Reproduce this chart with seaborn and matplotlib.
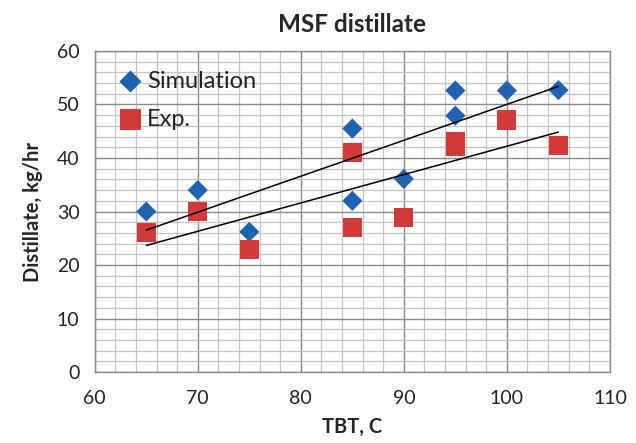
import matplotlib
matplotlib.use("Agg")
import matplotlib.pyplot as plt
import seaborn as sns
import pandas as pd
from matplotlib.ticker import MultipleLocator

# values
tbt = [65, 70, 75, 85, 85, 90, 95, 95, 100, 105]
simulation = [30.0, 34.0, 26.2, 45.5, 32.0, 36.1, 52.6, 47.9, 52.6, 52.7]
experiment = [26.1, 30.0, 22.9, 41.0, 27.0, 28.9, 43.0, 42.2, 47.1, 42.3]

df = pd.DataFrame({"TBT": tbt, "Simulation": simulation, "Exp.": experiment})

sns.set_style("white")
plt.rcParams["font.family"] = ["Lato", "DejaVu Sans"]

fig = plt.figure(figsize=(6.36, 4.43), dpi=100)
ax = fig.add_axes([0.149, 0.160, 0.810, 0.725])

sns.scatterplot(data=df, x="TBT", y="Simulation", marker="D", s=105,
                color="#1f63b0", edgecolor="none", label="Simulation", ax=ax, zorder=3)
sns.scatterplot(data=df, x="TBT", y="Exp.", marker="s", s=190,
                color="#d03a3a", edgecolor="none", label="Exp.", ax=ax, zorder=4)
sns.regplot(data=df, x="TBT", y="Simulation", scatter=False, ci=None,
            line_kws={"color": "black", "lw": 1.1, "zorder": 5}, ax=ax)
sns.regplot(data=df, x="TBT", y="Exp.", scatter=False, ci=None,
            line_kws={"color": "black", "lw": 1.1, "zorder": 5}, ax=ax)

ax.set_xlim(60, 110)
ax.set_ylim(0, 60)
ax.xaxis.set_major_locator(MultipleLocator(10))
ax.yaxis.set_major_locator(MultipleLocator(10))
ax.xaxis.set_minor_locator(MultipleLocator(2))
ax.yaxis.set_minor_locator(MultipleLocator(2))
ax.grid(which="major", color="#8a8a8a", lw=1.0, zorder=0)
ax.grid(which="minor", color="#c4c4c4", lw=0.9, zorder=0)
ax.set_axisbelow(True)
ax.tick_params(which="major", direction="inout", length=8, width=1.0,
               color="#8a8a8a", labelsize=14, labelcolor="#222222")
ax.tick_params(which="minor", length=0)
ax.tick_params(axis="y", pad=7)
ax.tick_params(axis="x", pad=9)
for sp in ax.spines.values():
    sp.set_color("#8a8a8a")
    sp.set_linewidth(1.0)

ax.set_title("MSF distillate", fontsize=17.5, fontweight="bold", pad=14)
ax.set_xlabel("TBT, C", fontsize=14.5, fontweight="bold", labelpad=7)
ax.set_ylabel("Distillate, kg/hr", fontsize=14.5, fontweight="bold", labelpad=10)

leg = ax.legend(loc="upper left", frameon=False, prop={"size": 17}, handletextpad=0.15,
                borderaxespad=0.3, labelspacing=0.72, handlelength=1.1,
                bbox_to_anchor=(0.012, 0.99), markerscale=1.1)
for t in leg.get_texts():
    t.set_color("#222222")

fig.savefig("out.png", dpi=100)
